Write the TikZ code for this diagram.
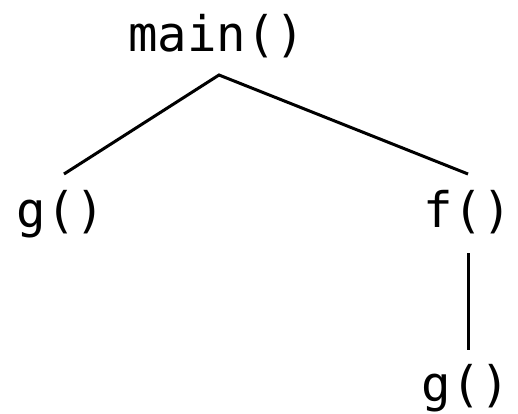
\documentclass[tikz,border=0pt]{standalone}
\usepackage{fontspec}
\setmonofont{DejaVu Sans Mono}
\begin{document}
\begin{tikzpicture}[x=1pt,y=-1pt,
  fn/.style={font=\ttfamily\fontsize{49}{49}\selectfont, inner sep=0pt, anchor=base},
  edge/.style={line width=3pt}]
\useasboundingbox (0,0) rectangle (518,413);
\node[fn] (main) at (217,51) {main()};
\node[fn] (g1) at (61,227) {g()};
\node[fn] (f) at (468,227) {f()};
\node[fn] (g2) at (466,401) {g()};
\coordinate (top) at (219,75);
\coordinate (gtop) at (64,174);
\coordinate (ftop) at (468,174);
\coordinate (fbot) at (468,253);
\coordinate (g2top) at (468,350);
\draw[edge] (gtop) -- (top) -- (ftop);
\draw[edge] (fbot) -- (g2top);
\end{tikzpicture}
\end{document}
